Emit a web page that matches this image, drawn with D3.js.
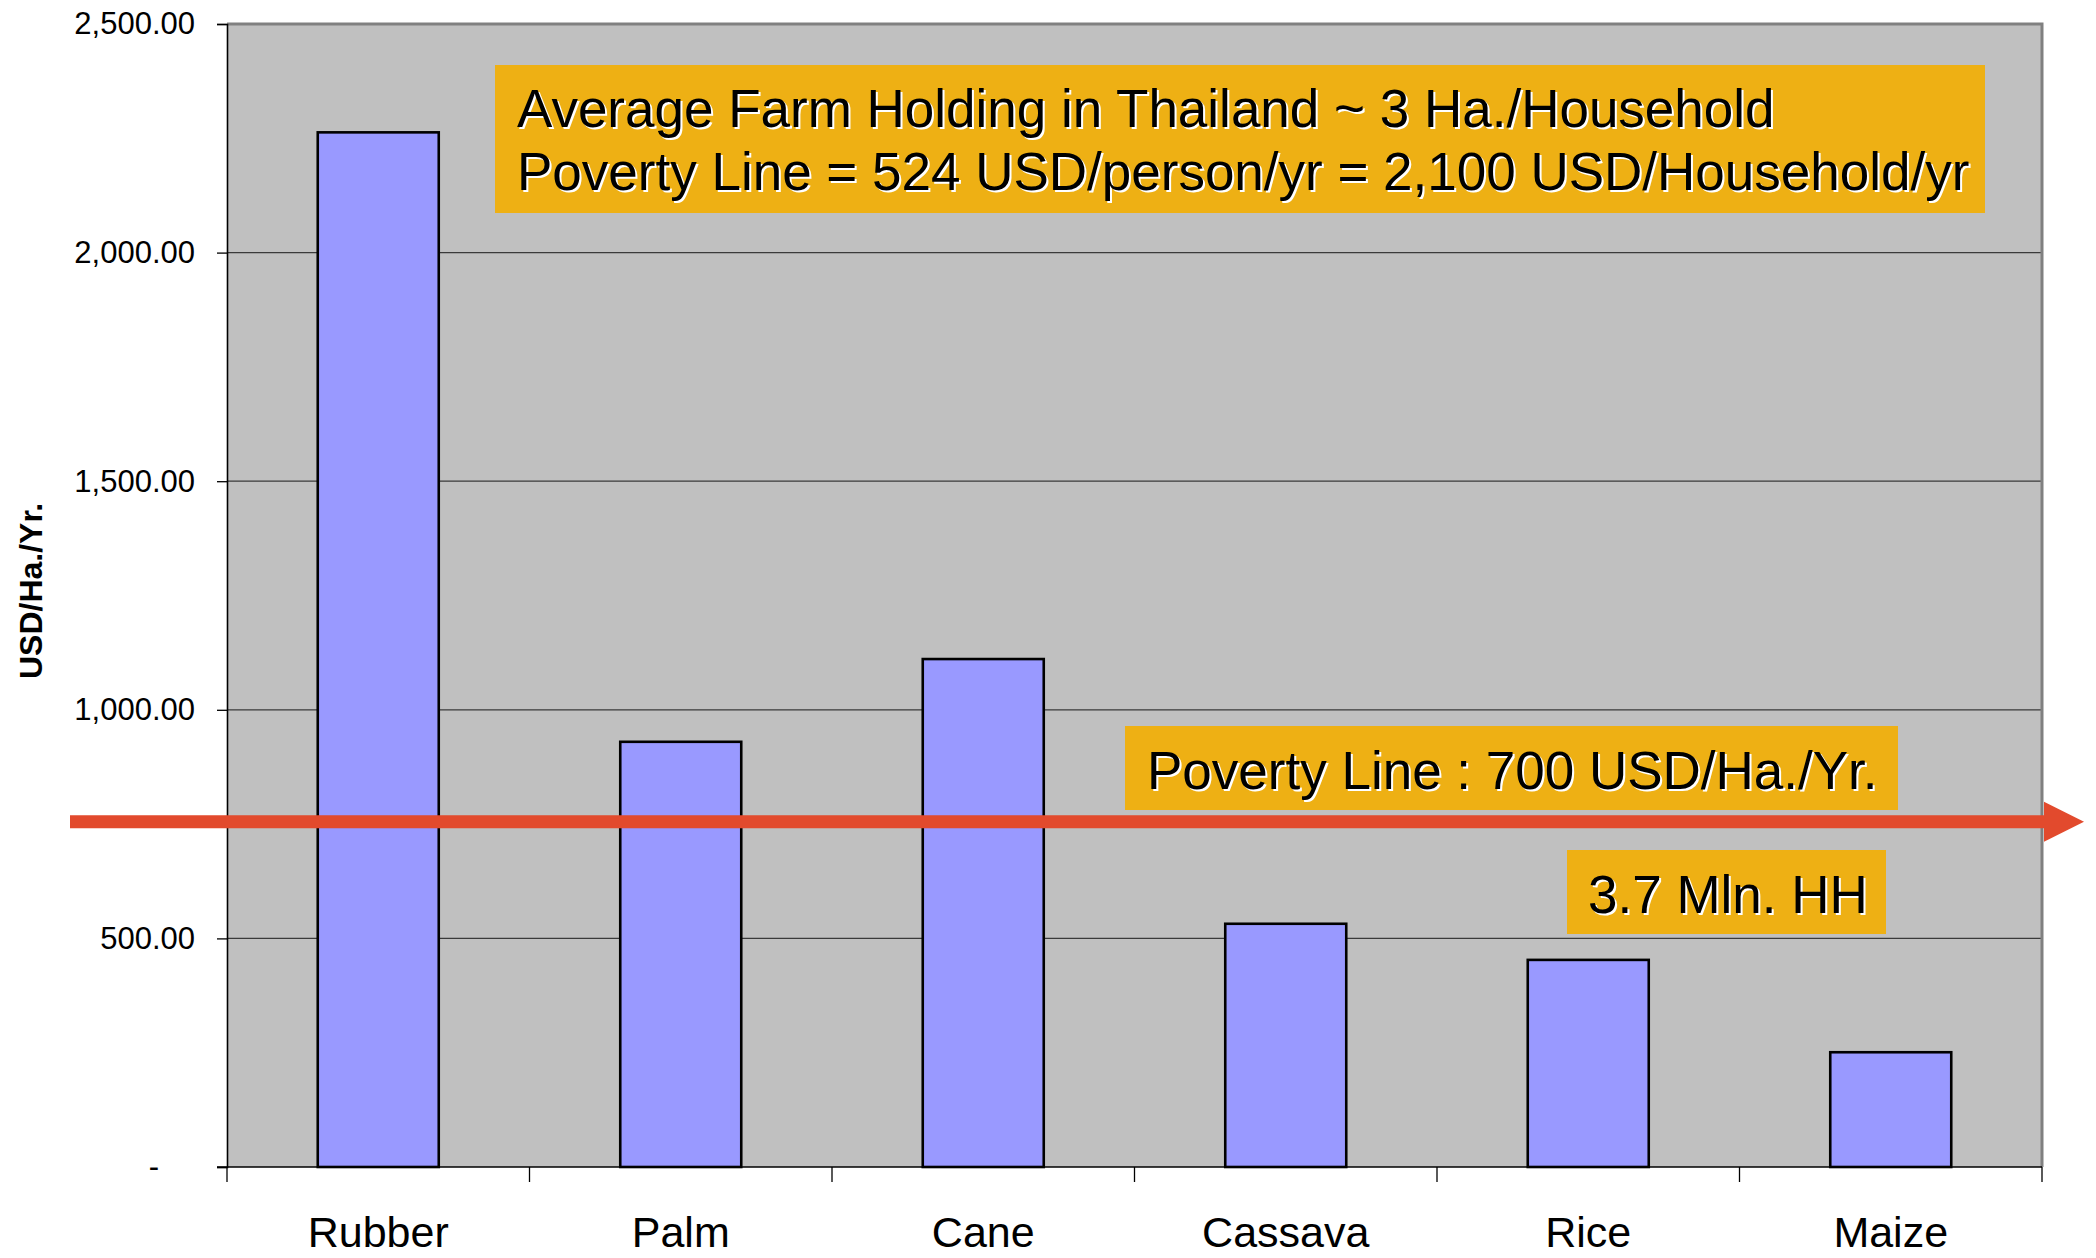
<!DOCTYPE html>
<html>
<head>
<meta charset="utf-8">
<script src="https://cdn.jsdelivr.net/npm/d3@7"></script>
<style>
  body { margin: 0; background: #fff; }
  svg { display: block; font-family: "Liberation Sans", Arial, sans-serif; }
</style>
</head>
<body>
<div class="chart"></div>
<script>
// data
const categories = ["Rubber", "Palm", "Cane", "Cassava", "Rice", "Maize"];
const values = [2263, 930, 1111, 532, 453, 251];
const yTicks = [0, 500, 1000, 1500, 2000, 2500];
const arrowValue = 755;
const topNote = ["Average Farm Holding in Thailand ~ 3 Ha./Household",
                 "Poverty Line = 524 USD/person/yr = 2,100 USD/Household/yr"];
const lineNote = "Poverty Line : 700 USD/Ha./Yr.";
const hhNote = "3.7 Mln. HH";

const W = 2096, H = 1258;
const margin = { top: 24, right: 54, bottom: 91, left: 227 };
const width = W - margin.left - margin.right;
const height = H - margin.top - margin.bottom;

const svg = d3.select('.chart').append('svg')
    .attr('width', W)
    .attr('height', H);

const g = svg.append('g')
    .attr('transform', `translate(${margin.left},${margin.top})`);

const x = d3.scaleBand()
    .domain(categories)
    .range([0, width])
    .paddingInner(0.6)
    .paddingOuter(0.3);

const y = d3.scaleLinear()
    .domain([0, 2500])
    .range([height, 0]);

// plot background
g.append('rect')
    .attr('width', width)
    .attr('height', height)
    .attr('fill', '#c0c0c0');

// gridlines
g.append('g')
    .selectAll('line')
    .data(yTicks.filter(d => d > 0 && d < 2500))
    .enter()
    .append('line')
    .attr('x1', 0)
    .attr('x2', width)
    .attr('y1', d => y(d))
    .attr('y2', d => y(d))
    .attr('stroke', '#3a3a3a')
    .attr('stroke-width', 1.3);

// top / right border
g.append('path')
    .attr('d', `M0,${y(2500)}H${width}V${height}`)
    .attr('fill', 'none')
    .attr('stroke', '#808080')
    .attr('stroke-width', 3);

// bars
g.append('g')
    .selectAll('rect')
    .data(values)
    .enter()
    .append('rect')
    .attr('x', (d, i) => x(categories[i]))
    .attr('y', d => y(d))
    .attr('width', x.bandwidth())
    .attr('height', d => height - y(d))
    .attr('fill', '#9999ff')
    .attr('stroke', '#000')
    .attr('stroke-width', 2.6);

// y axis
const yAxis = g.append('g')
    .call(d3.axisLeft(y)
        .tickValues(yTicks)
        .tickSize(10)
        .tickPadding(22)
        .tickFormat(d => d === 0 ? '-' : d3.format(',.2f')(d)));
yAxis.select('.domain').attr('stroke', '#000').attr('stroke-width', 1.6);
yAxis.selectAll('.tick line').attr('stroke', '#000').attr('stroke-width', 1.3);
yAxis.selectAll('.tick text')
    .attr('font-size', 31)
    .attr('font-family', '"Liberation Sans", Arial, sans-serif')
    .attr('fill', '#000')
    .attr('dx', d => d === 0 ? -36 : 0);

// x axis line and boundary ticks
g.append('line')
    .attr('x1', -10)
    .attr('x2', width)
    .attr('y1', height)
    .attr('y2', height)
    .attr('stroke', '#000')
    .attr('stroke-width', 1.6);

const step = x.step();
const edges = categories.map(c => x(c) - (step - x.bandwidth()) / 2).concat([width]);
g.append('g')
    .selectAll('line')
    .data(edges)
    .enter()
    .append('line')
    .attr('x1', d => d)
    .attr('x2', d => d)
    .attr('y1', height)
    .attr('y2', height + 15)
    .attr('stroke', '#000')
    .attr('stroke-width', 1.3);

g.append('g')
    .selectAll('text')
    .data(categories)
    .enter()
    .append('text')
    .attr('x', d => x(d) + x.bandwidth() / 2)
    .attr('y', height + 80)
    .attr('text-anchor', 'middle')
    .attr('font-size', 43)
    .text(d => d);

// y title
svg.append('text')
    .attr('transform', 'translate(42,591) rotate(-90)')
    .attr('text-anchor', 'middle')
    .attr('font-weight', 'bold')
    .attr('font-size', 32)
    .text('USD/Ha./Yr.');

// poverty arrow
const ay = margin.top + y(arrowValue);
svg.append('line')
    .attr('x1', 70)
    .attr('x2', 2048)
    .attr('y1', ay)
    .attr('y2', ay)
    .attr('stroke', '#e24a2d')
    .attr('stroke-width', 13);
svg.append('path')
    .attr('d', `M2044,${ay - 20}L2084,${ay}L2044,${ay + 20}Z`)
    .attr('fill', '#e24a2d');

// annotation boxes
function note(bx, by, bw, bh, lines, tx, baselines, size) {
    svg.append('rect')
        .attr('x', bx).attr('y', by)
        .attr('width', bw).attr('height', bh)
        .attr('fill', '#eeb014');
    lines.forEach((t, i) => {
        svg.append('text')
            .attr('x', tx + 2).attr('y', baselines[i] + 2)
            .attr('font-size', size)
            .attr('fill', '#fff')
            .text(t);
        svg.append('text')
            .attr('x', tx).attr('y', baselines[i])
            .attr('font-size', size)
            .attr('fill', '#000')
            .text(t);
    });
}

note(495, 65, 1490, 148, topNote, 517, [127, 190], 53);
note(1125, 726, 773, 84, [lineNote], 1147, [789], 53);
note(1567, 850, 319, 84, [hhNote], 1588, [913], 53);
</script>
</body>
</html>
